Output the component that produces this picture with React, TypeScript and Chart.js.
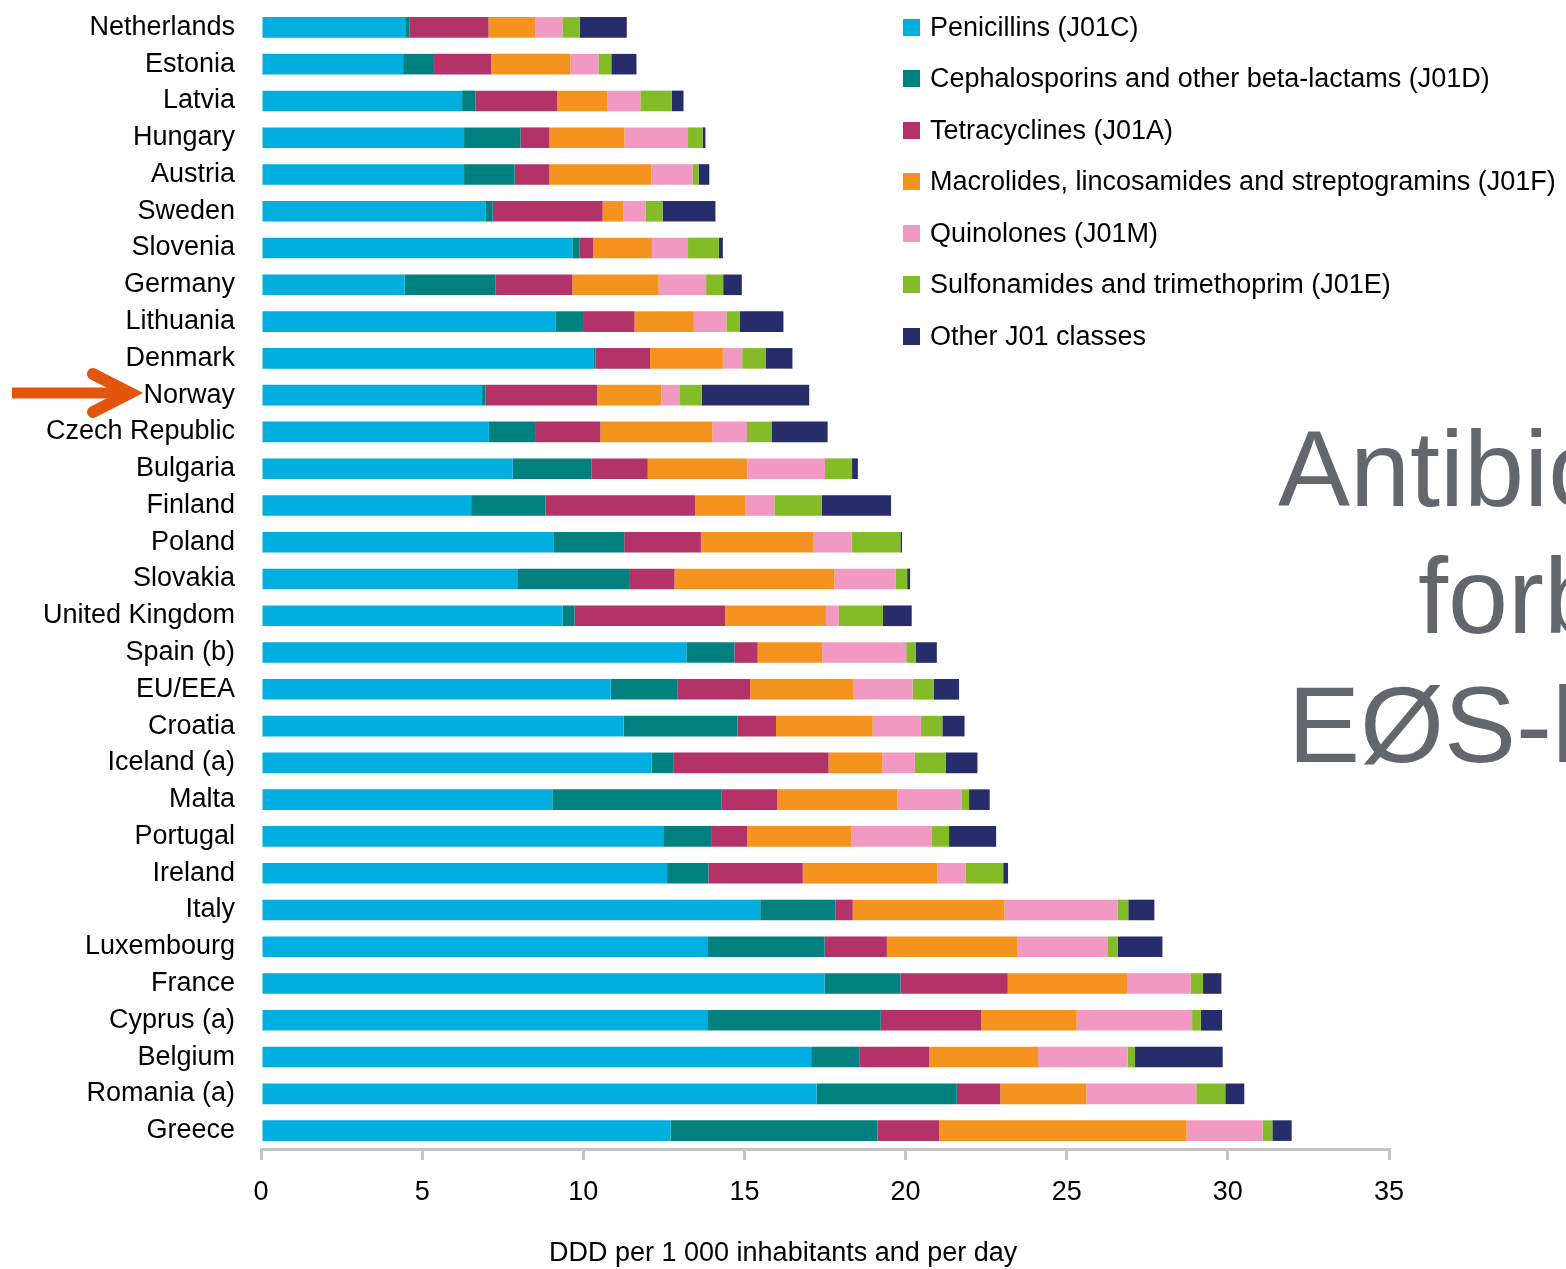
import React, { useEffect, useRef } from 'react';
import { Chart, registerables } from 'chart.js';

Chart.register(...registerables);

const countries = [
  'Netherlands', 'Estonia', 'Latvia', 'Hungary', 'Austria', 'Sweden', 'Slovenia', 'Germany',
  'Lithuania', 'Denmark', 'Norway', 'Czech Republic', 'Bulgaria', 'Finland', 'Poland', 'Slovakia',
  'United Kingdom', 'Spain (b)', 'EU/EEA', 'Croatia', 'Iceland (a)', 'Malta', 'Portugal', 'Ireland',
  'Italy', 'Luxembourg', 'France', 'Cyprus (a)', 'Belgium', 'Romania (a)', 'Greece',
];

const penicillins = [4.50, 4.41, 6.24, 6.30, 6.30, 6.96, 9.66, 4.46, 9.15, 10.33, 6.86, 7.07, 7.81, 6.52, 9.09, 7.95, 9.36, 13.20, 10.85, 11.25, 12.12, 9.04, 12.48, 12.60, 15.49, 13.87, 17.49, 13.87, 17.07, 17.24, 12.71];
const cephalosporins = [0.10, 0.96, 0.41, 1.75, 1.57, 0.23, 0.23, 2.82, 0.87, 0.05, 0.11, 1.46, 2.44, 2.31, 2.18, 3.47, 0.37, 1.49, 2.08, 3.53, 0.69, 5.24, 1.51, 1.28, 2.34, 3.62, 2.35, 5.36, 1.49, 4.35, 6.42];
const tetracyclines = [2.46, 1.77, 2.54, 0.90, 1.08, 3.41, 0.42, 2.38, 1.57, 1.69, 3.46, 2.00, 1.75, 4.64, 2.38, 1.41, 4.67, 0.72, 2.25, 1.20, 4.80, 1.74, 1.09, 2.93, 0.53, 1.93, 3.33, 3.12, 2.17, 1.35, 1.91];
const macrolides = [1.46, 2.46, 1.56, 2.33, 3.16, 0.64, 1.82, 2.68, 1.84, 2.26, 1.99, 3.48, 3.09, 1.57, 3.50, 4.96, 3.13, 2.00, 3.21, 3.00, 1.67, 3.72, 3.23, 4.17, 4.71, 4.04, 3.70, 2.96, 3.38, 2.67, 7.68];
const quinolones = [0.83, 0.87, 1.02, 1.97, 1.28, 0.69, 1.12, 1.47, 1.01, 0.60, 0.58, 1.07, 2.41, 0.89, 1.18, 1.91, 0.40, 2.61, 1.83, 1.50, 1.01, 2.01, 2.49, 0.88, 3.51, 2.82, 1.98, 3.58, 2.78, 3.41, 2.36];
const sulfonamides = [0.54, 0.40, 0.98, 0.45, 0.19, 0.53, 0.96, 0.53, 0.41, 0.74, 0.68, 0.76, 0.84, 1.47, 1.51, 0.35, 1.37, 0.29, 0.66, 0.66, 0.95, 0.22, 0.55, 1.17, 0.33, 0.30, 0.38, 0.27, 0.23, 0.90, 0.30];
const otherJ01 = [1.46, 0.78, 0.36, 0.09, 0.33, 1.64, 0.12, 0.58, 1.36, 0.82, 3.33, 1.74, 0.18, 2.15, 0.05, 0.09, 0.89, 0.66, 0.78, 0.69, 0.99, 0.64, 1.46, 0.15, 0.81, 1.39, 0.57, 0.66, 2.72, 0.59, 0.60];

const seriesNames = [
  'Penicillins (J01C)',
  'Cephalosporins and other beta-lactams (J01D)',
  'Tetracyclines (J01A)',
  'Macrolides, lincosamides and streptogramins (J01F)',
  'Quinolones (J01M)',
  'Sulfonamides and trimethoprim (J01E)',
  'Other J01 classes',
];
const seriesValues = [penicillins, cephalosporins, tetracyclines, macrolides, quinolones, sulfonamides, otherJ01];
const seriesColors = ['#00aee0', '#00807e', '#b33368', '#f4931e', '#f199c2', '#84bc27', '#262d6a'];

const xTickValues = [0, 5, 10, 15, 20, 25, 30, 35];
const xAxisTitle = 'DDD per 1 000 inhabitants and per day';
const titleLines = ['Antibiotika-', 'forbruk i', 'EØS-land'];

const FONT = "'Liberation Sans', Arial, sans-serif";

export default function App() {
  const canvasRef = useRef<HTMLCanvasElement | null>(null);

  useEffect(() => {
    if (!canvasRef.current) return;
    const chart = new Chart(canvasRef.current, {
      type: 'bar',
      data: {
        labels: countries,
        datasets: seriesNames.map((name, i) => ({
          label: name,
          data: seriesValues[i],
          backgroundColor: seriesColors[i],
          borderWidth: 0,
          barPercentage: 0.56,
          categoryPercentage: 1,
        })),
      },
      options: {
        indexAxis: 'y',
        animation: false,
        responsive: true,
        maintainAspectRatio: false,
        layout: { padding: { top: 9, right: 177, left: 0, bottom: 0 } },
        plugins: {
          legend: { display: false },
          tooltip: { enabled: false },
        },
        scales: {
          x: {
            stacked: true,
            min: 0,
            max: 35,
            afterBuildTicks: (s: any) => {
              s.ticks = xTickValues.map((v) => ({ value: v }));
            },
            ticks: {
              color: '#000',
              font: { family: FONT, size: 27 },
              padding: 16,
              maxRotation: 0,
              autoSkip: false,
            },
            grid: {
              drawOnChartArea: false,
              drawTicks: true,
              tickLength: 11,
              color: '#c4c4c4',
              lineWidth: 3,
            },
            border: { display: true, color: '#c4c4c4', width: 3 },
            afterFit: (s: any) => {
              s.height = 120;
              s.paddingLeft = 0;
              s.paddingRight = 0;
            },
          },
          y: {
            stacked: true,
            ticks: {
              color: '#000',
              font: { family: FONT, size: 27 },
              padding: 26,
              autoSkip: false,
            },
            grid: { display: false, drawTicks: false },
            border: { display: false },
            afterFit: (s: any) => {
              s.width = 261;
              s.paddingTop = 0;
              s.paddingBottom = 0;
            },
          },
        },
      },
    });
    return () => chart.destroy();
  }, []);

  return (
    <div
      style={{
        position: 'fixed',
        left: 0,
        top: 0,
        width: 1566,
        height: 1269,
        overflow: 'hidden',
        background: '#fff',
        fontFamily: FONT,
      }}
    >
      <div style={{ position: 'absolute', left: 0, top: 0, width: 1566, height: 1269 }}>
        <canvas ref={canvasRef} />
      </div>

      {seriesNames.map((name, i) => (
        <div
          key={name}
          style={{
            position: 'absolute',
            left: 903,
            top: 27 + i * 51.5 - 16,
            height: 32,
            display: 'flex',
            alignItems: 'center',
            whiteSpace: 'nowrap',
            fontSize: 27,
            color: '#000',
          }}
        >
          <span style={{ display: 'inline-block', width: 17, height: 17, background: seriesColors[i], marginRight: 10 }} />
          <span>{name}</span>
        </div>
      ))}

      <div
        style={{
          position: 'absolute',
          left: 549,
          top: 1236,
          lineHeight: '32px',
          fontSize: 27,
          color: '#000',
          whiteSpace: 'nowrap',
        }}
      >
        {xAxisTitle}
      </div>

      {titleLines.map((line, i) => (
        <div
          key={line}
          style={{
            position: 'absolute',
            left: [1278, 1418, 1288][i],
            top: [415, 542, 671][i],
            fontSize: 108,
            lineHeight: 1,
            color: '#63666a',
            whiteSpace: 'nowrap',
          }}
        >
          {line}
        </div>
      ))}

      <svg width={160} height={60} style={{ position: 'absolute', left: 0, top: 363 }}>
        <line x1={12} y1={30} x2={124} y2={30} stroke="#e2560c" strokeWidth={11} strokeLinecap="butt" />
        <polyline
          points="93,11 130,30 93,49"
          fill="none"
          stroke="#e2560c"
          strokeWidth={12}
          strokeLinecap="round"
          strokeLinejoin="miter"
        />
      </svg>
    </div>
  );
}
